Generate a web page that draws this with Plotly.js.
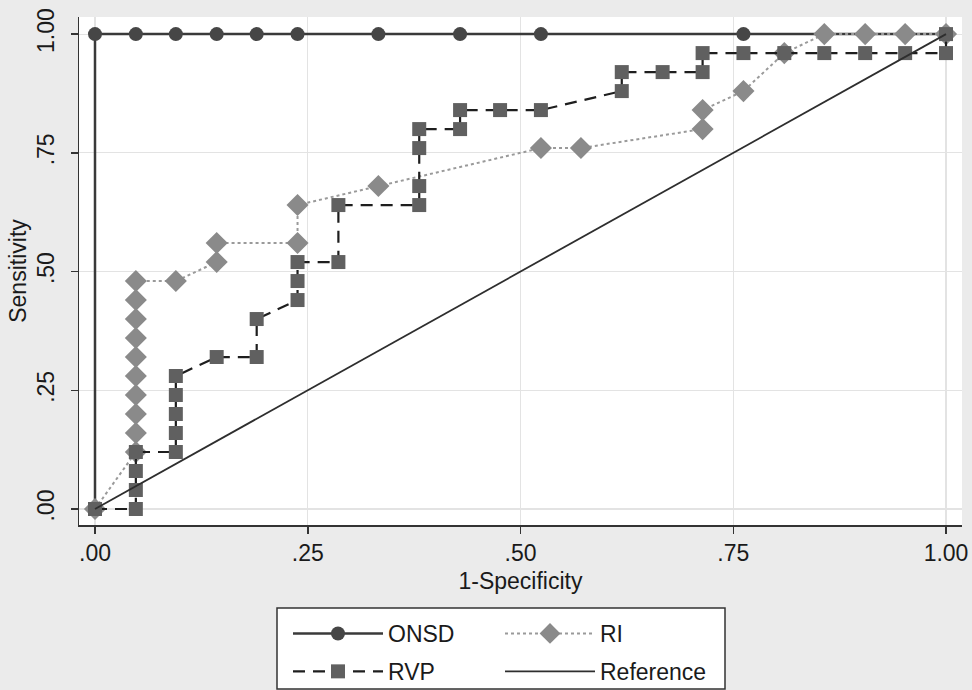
<!DOCTYPE html>
<html>
<head>
<meta charset="utf-8">
<script src="https://cdn.plot.ly/plotly-3.0.1.min.js"></script>
<style>
html,body{margin:0;padding:0;background:#ebebeb;}
#chart{width:972px;height:690px;}
</style>
</head>
<body>
<div id="chart"></div>
<script>
// ---- data ----
var onsdX = [0, 0, 0.048, 0.095, 0.143, 0.190, 0.238, 0.333, 0.429, 0.524, 0.762, 1];
var onsdY = [0, 1, 1, 1, 1, 1, 1, 1, 1, 1, 1, 1];

var rvpX = [0, 0.048, 0.048, 0.048, 0.048, 0.095, 0.095, 0.095, 0.095, 0.095, 0.143, 0.190, 0.190,
            0.238, 0.238, 0.238, 0.286, 0.286, 0.381, 0.381, 0.381, 0.381, 0.429, 0.429, 0.476, 0.524,
            0.619, 0.619, 0.667, 0.714, 0.714, 0.762, 0.810, 0.857, 0.905, 0.952, 1, 1];
var rvpY = [0, 0, 0.04, 0.08, 0.12, 0.12, 0.16, 0.20, 0.24, 0.28, 0.32, 0.32, 0.40,
            0.44, 0.48, 0.52, 0.52, 0.64, 0.64, 0.68, 0.76, 0.80, 0.80, 0.84, 0.84, 0.84,
            0.88, 0.92, 0.92, 0.92, 0.96, 0.96, 0.96, 0.96, 0.96, 0.96, 0.96, 1];

var riX = [0, 0.048, 0.048, 0.048, 0.048, 0.048, 0.048, 0.048, 0.048, 0.048, 0.048, 0.095, 0.143, 0.143,
           0.238, 0.238, 0.333, 0.524, 0.571, 0.714, 0.714, 0.762, 0.810, 0.857, 0.905, 0.952, 1];
var riY = [0, 0.12, 0.16, 0.20, 0.24, 0.28, 0.32, 0.36, 0.40, 0.44, 0.48, 0.48, 0.52, 0.56,
           0.56, 0.64, 0.68, 0.76, 0.76, 0.80, 0.84, 0.88, 0.96, 1, 1, 1, 1];

var refX = [0, 1];
var refY = [0, 1];

var tickVals = [0, 0.25, 0.5, 0.75, 1];
var tickText = ['.00', '.25', '.50', '.75', '1.00'];

var FONT = 'Liberation Sans, Arial, Helvetica, sans-serif';
var FS = 23;

var traces = [
  {x: onsdX, y: onsdY, name: 'ONSD', mode: 'lines+markers', legend: 'legend', legendrank: 1, legendgroup: 'g1',
   line: {color: '#3a3a3a', width: 2.5},
   marker: {symbol: 'circle', size: 14, color: '#464646'}},
  {x: riX, y: riY, name: 'RI', mode: 'lines+markers', legend: 'legend2', legendrank: 1, legendgroup: 'g3',
   line: {color: '#9a9a9a', width: 2, dash: 'dot'},
   marker: {symbol: 'diamond', size: 17, color: '#8a8a8a'}},
  {x: rvpX, y: rvpY, name: 'RVP', mode: 'lines+markers', legend: 'legend', legendrank: 2, legendgroup: 'g2',
   line: {color: '#1e1e1e', width: 2.2, dash: '12px,8px'},
   marker: {symbol: 'square', size: 14, color: '#606060'}},
  {x: refX, y: refY, name: 'Reference', mode: 'lines', legend: 'legend2', legendrank: 2, legendgroup: 'g4',
   line: {color: '#2e2e2e', width: 1.8}}
];

function px2x(p){ return (p - 79) / 883; }
function py2y(p){ return (525 - p) / 508; }

var legendCommon = {
  orientation: 'v', xanchor: 'left', yanchor: 'top',
  bgcolor: 'rgba(0,0,0,0)', borderwidth: 0,
  font: {family: FONT, size: FS, color: '#1a1a1a'},
  itemwidth: 90, tracegroupgap: 5, itemclick: false
};

var layout = {
  width: 972, height: 690,
  margin: {l: 79, r: 10, t: 17, b: 165, autoexpand: false},
  paper_bgcolor: '#ebebeb',
  plot_bgcolor: '#ffffff',
  font: {family: FONT, size: FS, color: '#1a1a1a'},
  showlegend: true,
  xaxis: {
    range: [-0.0188, 1.0188], tickvals: tickVals, ticktext: tickText,
    ticks: 'outside', ticklen: 7, tickwidth: 1.5, tickcolor: '#333',
    ticklabelstandoff: 0, automargin: false,
    showline: true, linecolor: '#333', linewidth: 1.5,
    showgrid: true, gridcolor: '#e3e3e3', gridwidth: 1.2, zeroline: false,
    tickfont: {family: FONT, size: FS, color: '#1a1a1a'},
    title: {text: '1-Specificity', font: {family: FONT, size: FS, color: '#1a1a1a'}, standoff: 8}
  },
  yaxis: {
    range: [-0.0337, 1.036], tickvals: tickVals, ticktext: tickText,
    ticks: 'outside', ticklen: 7, tickwidth: 1.5, tickcolor: '#333', tickangle: -90,
    ticklabelstandoff: 7, automargin: false,
    showline: true, linecolor: '#333', linewidth: 1.5,
    showgrid: true, gridcolor: '#e3e3e3', gridwidth: 1.2, zeroline: false,
    tickfont: {family: FONT, size: FS, color: '#1a1a1a'},
    title: {text: 'Sensitivity', font: {family: FONT, size: FS, color: '#1a1a1a'}, standoff: 0}
  },
  legend: Object.assign({}, legendCommon, {x: px2x(288), y: py2y(612)}),
  legend2: Object.assign({}, legendCommon, {x: px2x(500), y: py2y(612)}),
  shapes: [
    {type: 'rect', xref: 'paper', yref: 'paper',
     x0: px2x(277), x1: px2x(725), y0: py2y(608), y1: py2y(689),
     line: {color: '#333', width: 1.5}, fillcolor: '#ffffff', layer: 'below'}
  ]
};

Plotly.newPlot('chart', traces, layout, {staticPlot: true, displayModeBar: false});
</script>
</body>
</html>
